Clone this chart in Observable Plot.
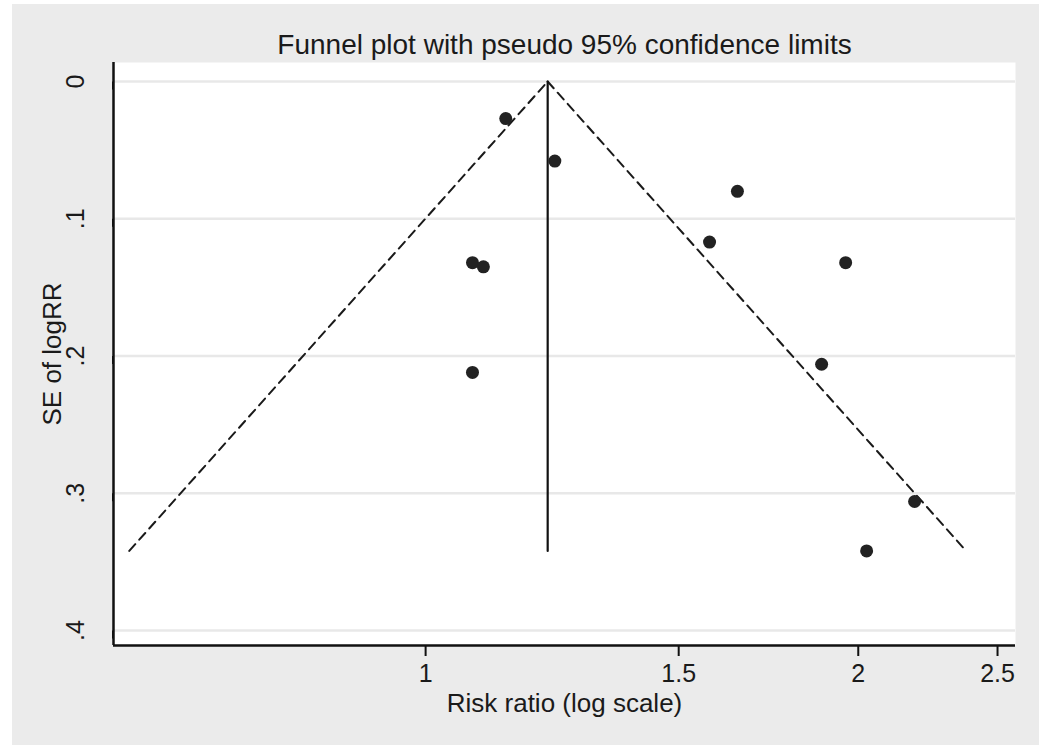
<!DOCTYPE html>
<html>
<head>
<meta charset="utf-8">
<script src="https://cdn.jsdelivr.net/npm/d3@7"></script>
<script src="https://cdn.jsdelivr.net/npm/@observablehq/plot@0.6"></script>
<style>
  html, body { margin: 0; padding: 0; background: #ffffff; }
  #bg { position: absolute; left: 12px; top: 4px; width: 1027px; height: 741px; background: #ebebeb; }
  #chart { position: absolute; left: 0; top: 0; }
</style>
</head>
<body>
<div id="bg"></div>
<div id="chart"></div>
<script>
// Study estimates: risk ratio and standard error of log RR
const riskRatio = [1.137, 1.230, 1.648, 1.576, 1.960, 1.078, 1.097, 1.078, 1.886, 2.189, 2.027];
const seLogRR   = [0.027, 0.058, 0.080, 0.117, 0.132, 0.132, 0.135, 0.212, 0.206, 0.306, 0.342];
const pooledRR  = 1.216;
const xTicks = [1, 1.5, 2, 2.5];
const yTicks = [0, 0.1, 0.2, 0.3, 0.4];
const titleText = "Funnel plot with pseudo 95% confidence limits";
const xLabel = "Risk ratio (log scale)";
const yLabel = "SE of logRR";

const studies = riskRatio.map((rr, i) => ({rr, se: seLogRR[i]}));
const seMax = d3.max(seLogRR);
const z = 1.96;
const leftLimit = [
  {rr: pooledRR * Math.exp(-z * seMax), se: seMax},
  {rr: pooledRR, se: 0}
];
const rightLimit = [
  {rr: pooledRR, se: 0},
  {rr: pooledRR * Math.exp(z * seMax), se: seMax}
];
const centerLine = [{rr: pooledRR, se: 0}, {rr: pooledRR, se: seMax}];

const fmtY = d => d === 0 ? "0" : String(d).replace(/^0\./, ".");
const font = "'Liberation Sans', Arial, sans-serif";

const chart = Plot.plot({
  width: 1050,
  height: 756,
  marginLeft: 113,
  marginRight: 35,
  marginTop: 62,
  marginBottom: 111,
  style: {fontFamily: font, background: "transparent", color: "#1a1a1a", overflow: "visible"},
  x: {type: "log", domain: [0.6065, 2.573]},
  y: {domain: [-0.01384, 0.41093], reverse: true},
  marks: [
    Plot.frame({fill: "white", stroke: null}),
    Plot.gridY(yTicks, {stroke: "#e8e8e8", strokeOpacity: 1, strokeWidth: 2.5}),
    Plot.line(leftLimit, {x: "rr", y: "se", stroke: "#1a1a1a", strokeWidth: 2, strokeDasharray: "9,6"}),
    Plot.line(rightLimit, {x: "rr", y: "se", stroke: "#1a1a1a", strokeWidth: 2, strokeDasharray: "9,6"}),
    Plot.line(centerLine, {x: "rr", y: "se", stroke: "#111", strokeWidth: 2.2}),
    Plot.dot(studies, {x: "rr", y: "se", r: 6.5, fill: "#222", stroke: null}),
    Plot.axisX(xTicks, {tickSize: 11, tickPadding: 8, fontSize: 25, tickFormat: d => String(d), label: null, stroke: "#111", strokeWidth: 2}),
    Plot.axisY(yTicks, {tickSize: 8, tickPadding: 30, fontSize: 25, tickFormat: fmtY, label: null, rotate: -90, textAnchor: "middle", stroke: "#111", strokeWidth: 2}),
    Plot.ruleY([0], {y: () => 0.41093, stroke: "#111", strokeWidth: 2.5}),
    Plot.ruleX([0], {x: () => 0.6065, stroke: "#111", strokeWidth: 2.5}),
    Plot.text([titleText], {frameAnchor: "top", dy: -28, lineAnchor: "top", fontSize: 28, fill: "#1a1a1a"}),
    Plot.text([xLabel], {frameAnchor: "bottom", dy: 48, lineAnchor: "top", fontSize: 26, fill: "#1a1a1a"}),
    Plot.text([yLabel], {frameAnchor: "left", dx: -61, rotate: -90, lineAnchor: "middle", textAnchor: "middle", fontSize: 26, fill: "#1a1a1a"})
  ]
});
document.getElementById("chart").appendChild(chart);
</script>
</body>
</html>
